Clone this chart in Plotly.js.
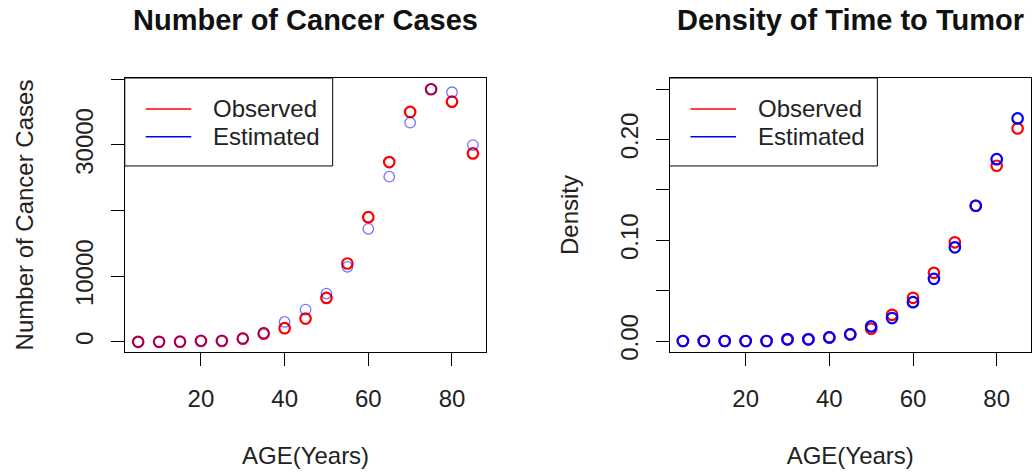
<!DOCTYPE html>
<html>
<head>
<meta charset="utf-8">
<script src="https://cdn.plot.ly/plotly-3.0.1.min.js"></script>
<style>html,body{margin:0;padding:0;background:#fff;}#plot{width:1033px;height:473px;}</style>
</head>
<body>
<div id="plot"></div>
<script>
// ---- data ----
const ages = [5,10,15,20,25,30,35,40,45,50,55,60,65,70,75,80,85];
const casesObserved  = [20,30,40,150,150,500,1270,2100,3560,6710,11950,19010,27400,35030,38490,36600,28720];
const casesEstimated = [20,30,40,250,250,600,1420,3050,4930,7370,11440,17230,25170,33400,38490,38030,29990];
const densObserved  = [0,0,0,0,0,0.0017,0.0017,0.0036,0.0066,0.0122,0.026,0.0429,0.0677,0.098,0.1343,0.174,0.211];
const densEstimated = [0,0,0,0,0,0.0017,0.0017,0.0036,0.0066,0.0145,0.0228,0.0386,0.0617,0.093,0.1343,0.1805,0.221];
const xTicks = [20,40,60,80];
const casesTicks = [0,10000,20000,30000,40000];
const casesTickText = ["0","10000","","30000",""];
const densTicks = [0,0.05,0.10,0.15,0.20,0.25];
const densTickText = ["0.00","","0.10","","0.20",""];
const titles = ["Number of Cancer Cases","Density of Time to Tumor"];
const legendNames = ["Observed","Estimated"];

const FONT = "Liberation Sans, Arial, Helvetica, sans-serif";
const RED = "#ff0000", BLUE = "#0000ff";

function mk(x, y, color, width, xa, ya){
  return {x:x, y:y, type:'scatter', mode:'markers', xaxis:xa, yaxis:ya, showlegend:false,
    marker:{symbol:'circle-open', size:10.5, color:color, line:{color:color, width:width}},
    hoverinfo:'x+y'};
}
const data = [
  mk(ages, casesObserved, RED, 2.2, 'x', 'y'),
  mk(ages, casesEstimated, 'rgba(0,0,255,0.55)', 1.3, 'x', 'y'),
  mk(ages, densObserved, RED, 2.2, 'x2', 'y2'),
  mk(ages, densEstimated, BLUE, 2.2, 'x2', 'y2')
];

const xdomL = [124.8/1033, 486.3/1033];
const xdomR = [669.5/1033, 1031/1033];
const ydom = [(473-352)/473, (473-78)/473];

function xaxis(dom, anchor){
  return {domain:dom, anchor:anchor, range:[1.8,88.2], tickvals:xTicks, ticktext:xTicks.map(String),
    ticks:'outside', ticklen:13, tickwidth:1, tickcolor:'#000', showline:true, linecolor:'#000', linewidth:1,
    mirror:true, showgrid:false, zeroline:false, tickfont:{family:FONT,size:24,color:'#222'},
    ticklabelstandoff:12,
    title:{text:'AGE(Years)', font:{family:FONT,size:24,color:'#222'}, standoff:36}};
}
function yaxis(dom, anchor, range, tv, tt, title){
  return {domain:dom, anchor:anchor, range:range, tickvals:tv, ticktext:tt, tickangle:-90,
    ticks:'outside', ticklen:13, tickwidth:1, tickcolor:'#000', showline:true, linecolor:'#000', linewidth:1,
    mirror:true, showgrid:false, zeroline:false, tickfont:{family:FONT,size:24,color:'#222'},
    ticklabelstandoff:8,
    title:{text:title, font:{family:FONT,size:24,color:'#222'}, standoff:30}};
}

const shapes = [], annotations = [];
[['x','y'],['x2','y2']].forEach(function(p, i){
  const xr = p[0]+' domain', yr = p[1]+' domain';
  shapes.push({type:'rect', xref:xr, yref:yr, x0:0, x1:0.575, y0:0.679, y1:1, line:{color:'#000',width:1}, fillcolor:'#fff', layer:'above'});
  [RED, BLUE].forEach(function(c, j){
    const yy = j===0 ? 0.887 : 0.786;
    shapes.push({type:'line', xref:xr, yref:yr, x0:0.058, x1:0.184, y0:yy, y1:yy, line:{color:c,width:1.5}, layer:'above'});
    annotations.push({xref:xr, yref:yr, x:0.238, y:yy, xanchor:'left', yanchor:'middle', showarrow:false,
      text:legendNames[j], font:{family:FONT,size:24,color:'#222'}});
  });
  const dom = i===0 ? xdomL : xdomR;
  annotations.push({xref:'paper', yref:'paper', x:(dom[0]+dom[1])/2, y:(473-20)/473, xanchor:'center', yanchor:'middle',
    showarrow:false, text:'<b>'+titles[i]+'</b>', font:{family:FONT,size:29,color:'#111'}});
});

const layout = {
  width:1033, height:473, margin:{l:0,r:0,t:0,b:0}, paper_bgcolor:'#fff', plot_bgcolor:'#fff',
  showlegend:false,
  xaxis: xaxis(xdomL,'y'),
  yaxis: yaxis(ydom,'x',[-1525,40200],casesTicks,casesTickText,'Number of Cancer Cases'),
  xaxis2: xaxis(xdomR,'y2'),
  yaxis2: yaxis(ydom,'x2',[-0.0109,0.2611],densTicks,densTickText,'Density'),
  shapes:shapes, annotations:annotations
};
Plotly.newPlot('plot', data, layout, {displayModeBar:false, staticPlot:true});
</script>
</body>
</html>
